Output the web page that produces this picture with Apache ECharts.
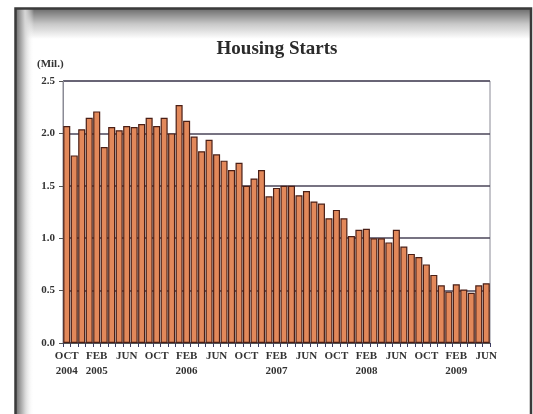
<!DOCTYPE html>
<html>
<head>
<meta charset="utf-8">
<script src="https://cdn.jsdelivr.net/npm/echarts@6/dist/echarts.min.js"></script>
<style>
  html, body { margin: 0; padding: 0; background: #fff; }
  #chart { width: 533px; height: 414px; }
</style>
</head>
<body>
<div id="chart"></div>
<script>
// monthly housing starts, Oct 2004 - Jun 2009 (millions)
const months = [
  "OCT", "NOV", "DEC",
  "JAN", "FEB", "MAR", "APR", "MAY", "JUN", "JUL", "AUG", "SEP", "OCT", "NOV", "DEC",
  "JAN", "FEB", "MAR", "APR", "MAY", "JUN", "JUL", "AUG", "SEP", "OCT", "NOV", "DEC",
  "JAN", "FEB", "MAR", "APR", "MAY", "JUN", "JUL", "AUG", "SEP", "OCT", "NOV", "DEC",
  "JAN", "FEB", "MAR", "APR", "MAY", "JUN", "JUL", "AUG", "SEP", "OCT", "NOV", "DEC",
  "JAN", "FEB", "MAR", "APR", "MAY", "JUN"
];
const years = [
  2004, 2004, 2004,
  2005, 2005, 2005, 2005, 2005, 2005, 2005, 2005, 2005, 2005, 2005, 2005,
  2006, 2006, 2006, 2006, 2006, 2006, 2006, 2006, 2006, 2006, 2006, 2006,
  2007, 2007, 2007, 2007, 2007, 2007, 2007, 2007, 2007, 2007, 2007, 2007,
  2008, 2008, 2008, 2008, 2008, 2008, 2008, 2008, 2008, 2008, 2008, 2008,
  2009, 2009, 2009, 2009, 2009, 2009
];
const starts = [
  2.07, 1.79, 2.04,
  2.15, 2.21, 1.87, 2.06, 2.03, 2.07, 2.06, 2.09, 2.15, 2.07, 2.15, 2.00,
  2.27, 2.12, 1.97, 1.83, 1.94, 1.80, 1.74, 1.65, 1.72, 1.50, 1.57, 1.65,
  1.40, 1.48, 1.50, 1.50, 1.41, 1.45, 1.35, 1.33, 1.19, 1.27, 1.19, 1.02,
  1.08, 1.09, 1.00, 1.00, 0.96, 1.08, 0.92, 0.85, 0.82, 0.75, 0.65, 0.55,
  0.49, 0.56, 0.51, 0.48, 0.55, 0.57
];
const yTicks = [0, 0.5, 1.0, 1.5, 2.0, 2.5];

const serif = "'Liberation Serif', 'DejaVu Serif', serif";

function renderChart() {
  const chart = echarts.init(document.getElementById("chart"));

  const options = {
    backgroundColor: "#fff",
    animation: false,
    title: {
      text: "Housing Starts",
      left: 272,
      textAlign: "center",
      top: 35,
      textStyle: { fontFamily: serif, fontWeight: "bold", fontSize: 19, color: "#2b2b2b" }
    },
    graphic: [
      // photo frame with soft shadow
      {
        type: "rect", z: -10,
        shape: { x: 16, y: 9, width: 515, height: 30 },
        style: {
          fill: new echarts.graphic.LinearGradient(0, 0, 0, 1, [
            { offset: 0, color: "#6e6e6e" },
            { offset: 0.5, color: "#c8c8c8" },
            { offset: 1, color: "#ffffff" }
          ])
        }
      },
      {
        type: "rect", z: -9,
        shape: { x: 16, y: 9, width: 18, height: 410 },
        style: {
          fill: new echarts.graphic.LinearGradient(0, 0, 1, 0, [
            { offset: 0, color: "#707070" },
            { offset: 0.5, color: "#d6d6d6" },
            { offset: 1, color: "rgba(255,255,255,0)" }
          ])
        }
      },
      {
        type: "rect", z: -8,
        shape: { x: 15.5, y: 8.5, width: 515.5, height: 420 },
        style: { fill: null, stroke: "#3a3a3a", lineWidth: 2.5 }
      },
      {
        type: "text", left: 37, top: 59,
        style: { text: "(Mil.)", fontFamily: serif, fontWeight: "bold", fontSize: 11, fill: "#333" }
      }
    ],
    grid: {
      left: 63, right: 43, top: 81, bottom: 71,
      show: true, borderColor: "#8a8a95", borderWidth: 1
    },
    xAxis: {
      type: "category",
      data: months,
      axisLine: { show: true, lineStyle: { color: "#555", width: 1 } },
      axisTick: { show: true, interval: 0, length: 4, lineStyle: { color: "#3c3c60" } },
      axisLabel: {
        interval: 3,
        margin: 6,
        fontFamily: serif, fontWeight: "bold", fontSize: 11, color: "#333",
        lineHeight: 15,
        formatter: (value, i) =>
          (i === 0 || value === "FEB") ? value + "\n" + years[i] : value
      }
    },
    yAxis: {
      type: "value",
      min: yTicks[0],
      max: yTicks[yTicks.length - 1],
      interval: 0.5,
      axisLine: { show: true, lineStyle: { color: "#8a8a95" } },
      axisTick: { show: true, length: 4, lineStyle: { color: "#555" } },
      splitLine: { lineStyle: { color: "#4a4458", width: 1.5 } },
      axisLabel: {
        margin: 8,
        fontFamily: serif, fontWeight: "bold", fontSize: 11, color: "#333",
        formatter: (v) => v.toFixed(1)
      }
    },
    series: [
      {
        name: "Housing Starts",
        type: "bar",
        data: starts,
        barCategoryGap: "6%",
        itemStyle: { color: "#e2885a", borderColor: "#4a1f16", borderWidth: 1.2 },
        z: 3
      }
    ]
  };

  chart.setOption(options);
}

document.addEventListener("DOMContentLoaded", renderChart);
</script>
</body>
</html>
